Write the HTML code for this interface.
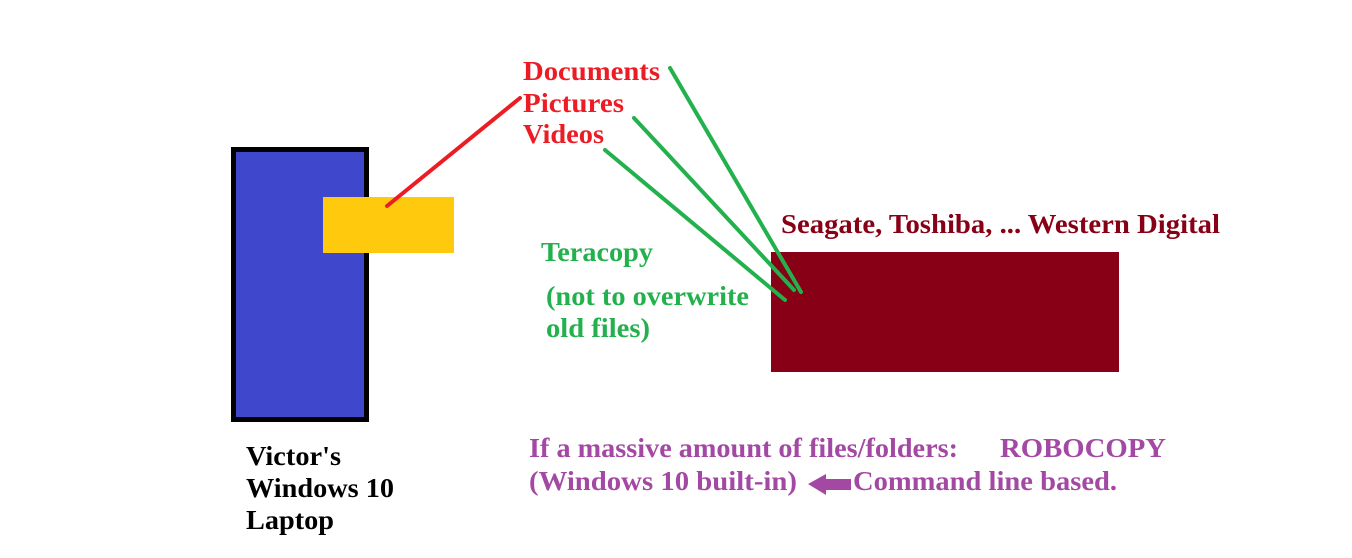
<!DOCTYPE html>
<html><head><meta charset="utf-8"><style>
body{margin:0;width:1352px;height:558px;background:#fff;overflow:hidden;position:relative}
svg{position:absolute;left:0;top:0}
text{font-family:"Liberation Serif",serif;font-weight:bold}
</style></head><body>
<svg width="1352" height="558">
<rect x="233.5" y="149.5" width="133" height="270" fill="#3f48cc" stroke="#000" stroke-width="5"/>
<rect x="323" y="197" width="131" height="56" fill="#ffc90e"/>
<rect x="771" y="252" width="348" height="120" fill="#880015"/>
<line x1="387" y1="206" x2="520" y2="98" stroke="#ed1c24" stroke-width="4" stroke-linecap="round"/>
<line x1="670" y1="68" x2="801" y2="292" stroke="#22b14c" stroke-width="4" stroke-linecap="round"/>
<line x1="634" y1="118" x2="794" y2="290" stroke="#22b14c" stroke-width="4" stroke-linecap="round"/>
<line x1="605" y1="150" x2="785" y2="300" stroke="#22b14c" stroke-width="4" stroke-linecap="round"/>
<g fill="#ed1c24" font-size="27" lengthAdjust="spacingAndGlyphs">
<text x="523" y="80" textLength="137" lengthAdjust="spacingAndGlyphs">Documents</text>
<text x="523" y="112" textLength="101" lengthAdjust="spacingAndGlyphs">Pictures</text>
<text x="523" y="143" textLength="81" lengthAdjust="spacingAndGlyphs">Videos</text>
</g>
<text x="781" y="233" font-size="27" fill="#880015" textLength="439" lengthAdjust="spacingAndGlyphs">Seagate, Toshiba, ... Western Digital</text>
<g fill="#22b14c" font-size="27">
<text x="541" y="261" textLength="112" lengthAdjust="spacingAndGlyphs">Teracopy</text>
<text x="546" y="305" textLength="203" lengthAdjust="spacingAndGlyphs">(not to overwrite</text>
<text x="546" y="337" textLength="104" lengthAdjust="spacingAndGlyphs">old files)</text>
</g>
<g fill="#000" font-size="27">
<text x="246" y="465" textLength="95" lengthAdjust="spacingAndGlyphs">Victor's</text>
<text x="246" y="497" textLength="148" lengthAdjust="spacingAndGlyphs">Windows 10</text>
<text x="246" y="529" textLength="88" lengthAdjust="spacingAndGlyphs">Laptop</text>
</g>
<g fill="#a349a4" font-size="27">
<text x="529" y="457" textLength="429" lengthAdjust="spacingAndGlyphs">If a massive amount of files/folders:</text>
<text x="1000" y="457" textLength="166" lengthAdjust="spacingAndGlyphs">ROBOCOPY</text>
<text x="529" y="490" textLength="268" lengthAdjust="spacingAndGlyphs">(Windows 10 built-in)</text>
<text x="853" y="490" textLength="264" lengthAdjust="spacingAndGlyphs">Command line based.</text>
<polygon points="808,484 826,474 826,479 851,479 851,490 826,490 826,495"/>
</g>
</svg>
</body></html>
